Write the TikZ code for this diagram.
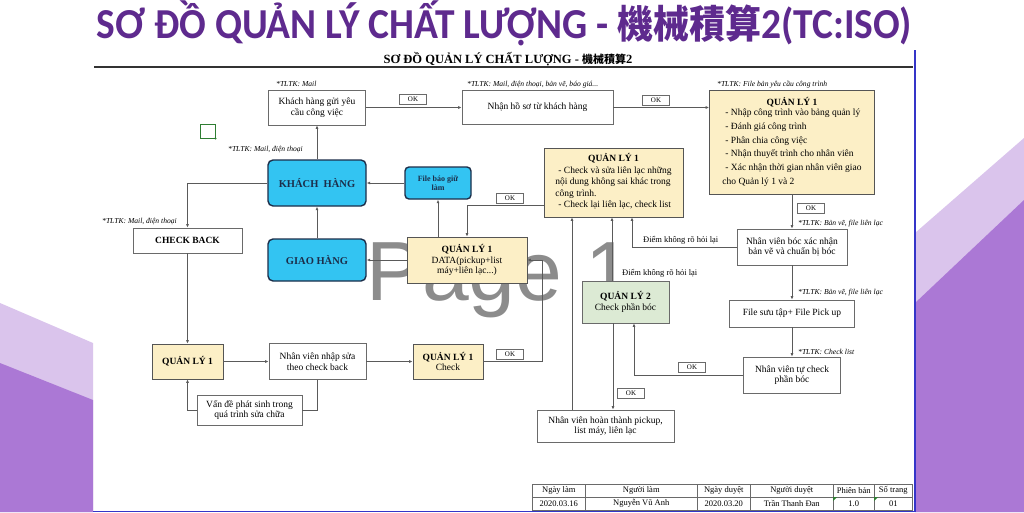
\documentclass[tikz,border=0pt]{standalone}
\usepackage{fontspec}
\setmainfont{Liberation Serif}
\newfontfamily\titlefont{Carlito}
\newfontfamily\cjk{Noto Sans CJK SC}
\newfontfamily\wmfont{Liberation Sans}
\usetikzlibrary{arrows.meta,calc}
\definecolor{ttl}{HTML}{5E2A8E}
\definecolor{pdark}{HTML}{AB78D5}
\definecolor{plight}{HTML}{DAC4EC}
\definecolor{ylw}{HTML}{FCEFC6}
\definecolor{grn}{HTML}{DCEAD4}
\definecolor{cyn}{HTML}{33C4F2}
\definecolor{navy}{HTML}{1C2E4A}
\definecolor{lncol}{HTML}{5A5A5A}
\definecolor{bdr}{HTML}{6A6A6A}
\definecolor{pgblue}{HTML}{3535C8}
\definecolor{wmgray}{HTML}{8C8C8C}
\definecolor{mkgreen}{HTML}{2E7D32}
\begin{document}
\begin{tikzpicture}[x=1pt,y=-1pt,
 box/.style={draw=bdr, line width=0.7pt, fill=white, inner sep=1pt, align=center, font=\fontsize{9.5}{10.5}\selectfont},
 ybox/.style={box, fill=ylw, draw=bdr!80!black},
 gbox/.style={box, fill=grn},
 cbox/.style={draw=navy, line width=1.4pt, fill=cyn, rounded corners=5pt, align=center, inner sep=1pt, font=\fontsize{10.5}{12}\selectfont\bfseries, text=navy},
 okbox/.style={draw=bdr, line width=0.6pt, fill=white, minimum width=27pt, minimum height=10pt, inner sep=0pt, font=\fontsize{7}{7}\selectfont},
 ref/.style={anchor=west, inner sep=0pt, font=\fontsize{7.6}{8}\selectfont\itshape},
 note/.style={anchor=west, inner sep=0pt, font=\fontsize{8.5}{9}\selectfont},
 arr/.style={draw=lncol, line width=0.7pt, -{Latex[length=3.5pt,width=3pt]}},
 conn/.style={draw=lncol, line width=0.7pt},
 cell/.style={draw=bdr, line width=0.5pt, minimum height=13pt, inner sep=0pt, anchor=north west, font=\fontsize{8.5}{9}\selectfont}
]
\useasboundingbox (0,0) rectangle (1024,512);
\fill[white] (0,0) rectangle (1024,512);
% background decoration
\fill[plight] (0,303) -- (93,343) -- (93,512) -- (0,512) -- cycle;
\fill[pdark] (0,363) -- (93,400) -- (93,512) -- (0,512) -- cycle;
\fill[plight] (915,233) -- (1024,138) -- (1024,512) -- (915,512) -- cycle;
\fill[pdark] (915,303) -- (1024,200) -- (1024,512) -- (915,512) -- cycle;
\draw[pgblue, line width=1.5pt] (915,50) -- (915,512);
\draw[pgblue, line width=1pt] (93,511) -- (915,511);
% titles
\node[anchor=base, inner sep=0pt, text=ttl] (title) at (504,38)
  {\scalebox{1}[1.08]{\titlefont\bfseries\fontsize{39.5}{41}\selectfont SƠ ĐỒ QUẢN LÝ CHẤT LƯỢNG - {\cjk\bfseries\fontsize{36}{41}\selectfont 機械積算}2(TC:ISO)}};
\node[anchor=base, inner sep=0pt] (sub) at (508,63)
  {\bfseries\fontsize{12.5}{13}\selectfont SƠ ĐỒ QUẢN LÝ CHẤT LƯỢNG - {\cjk\bfseries\fontsize{11}{13}\selectfont 機械積算}2};
\draw[line width=1.3pt, black!80] (94,67) -- (913,67);
% watermark
\node[anchor=base west, inner sep=0pt, text=wmgray, font=\wmfont\fontsize{84}{84}\selectfont] (wm) at (366,300) {Page 1};
% comment marker
\node[draw=mkgreen, line width=0.8pt, minimum width=15pt, minimum height=14pt, inner sep=0pt] (mk) at (207.5,131) {};
\fill[mkgreen] (mk.south east) circle (1.2pt);
% nodes
\node[box, minimum width=97pt, minimum height=35pt] (kreq) at (317,107.5) {Khách hàng gửi yêu\\cầu công việc};
\node[box, minimum width=151pt, minimum height=34pt] (nhan) at (537.5,107.5) {Nhận hồ sơ từ khách hàng};
\node[ybox, minimum width=165pt, minimum height=104pt] (qa) at (792,142) {\renewcommand{\arraystretch}{1.3}\begin{tabular}{@{}l@{}}\multicolumn{1}{c}{\textbf{QUẢN LÝ 1}}\\[-3pt]
 \hspace{3pt}- Nhập công trình vào bảng quản lý\\
 \hspace{3pt}- Đánh giá công trình\\
 \hspace{3pt}- Phân chia công việc\\
 \hspace{3pt}- Nhận thuyết trình cho nhân viên\\
 \hspace{3pt}- Xác nhận thời gian nhân viên giao\\
 cho Quản lý 1 và 2\end{tabular}};
\node[ybox, minimum width=139pt, minimum height=69pt] (qb) at (613.5,182.5) {\renewcommand{\arraystretch}{1.1}\begin{tabular}{@{}l@{}}\multicolumn{1}{c}{\textbf{QUẢN LÝ 1}}\\
 \hspace{3pt}- Check và sửa liên lạc những\\
 nội dung không sai khác trong\\
 công trình.\\
 \hspace{3pt}- Check lại liên lạc, check list\end{tabular}};
\node[box, minimum width=110pt, minimum height=36pt] (nvboc) at (792,247) {Nhân viên bóc xác nhận\\bản vẽ và chuẩn bị bóc};
\node[box, minimum width=125pt, minimum height=27pt] (filesuu) at (792,313.5) {File sưu tập+ File Pick up};
\node[box, minimum width=97pt, minimum height=36pt] (nvtu) at (792,375) {Nhân viên tự check\\phần bóc};
\node[gbox, minimum width=87pt, minimum height=42pt] (ql2) at (625.5,302) {\textbf{QUẢN LÝ 2}\\Check phần bóc};
\node[box, minimum width=137pt, minimum height=32pt] (hoan) at (605.5,426) {Nhân viên hoàn thành pickup,\\list máy, liên lạc};
\node[ybox, minimum width=120pt, minimum height=46pt] (data) at (467,260) {\textbf{QUẢN LÝ 1}\\DATA(pickup+list\\máy+liên lạc...)};
\node[cbox, rounded corners=4pt, minimum width=66pt, minimum height=32pt, font=\fontsize{8}{9.5}\selectfont\bfseries] (file) at (438,183) {File báo giữ\\làm};
\node[cbox, minimum width=98pt, minimum height=46pt] (kh) at (317,183) {KHÁCH\ \ HÀNG};
\node[cbox, minimum width=98pt, minimum height=42pt] (giao) at (317,260) {GIAO HÀNG};
\node[box, minimum width=109pt, minimum height=25pt] (cb) at (187.5,240.5) {\textbf{CHECK BACK}};
\node[ybox, minimum width=71pt, minimum height=35pt] (qll) at (187.5,361.5) {\textbf{QUẢN LÝ 1}};
\node[box, minimum width=97pt, minimum height=36pt] (nvnhap) at (317.5,361.5) {Nhân viên nhập sửa\\theo check back};
\node[ybox, minimum width=70pt, minimum height=35pt] (qlc) at (448,361.5) {\textbf{QUẢN LÝ 1}\\Check};
\node[box, minimum width=105pt, minimum height=30pt] (vande) at (249.5,410) {Vấn đề phát sinh trong\\quá trình sửa chữa};
% reference labels
\node[ref] (t1) at (276,84) {*TLTK: Mail};
\node[ref] (t2) at (467,85) {*TLTK: Mail, điện thoại, bản vẽ, báo giá...};
\node[ref] (t3) at (717,85) {*TLTK: File bản yêu cầu công trình};
\node[ref] (t4) at (228,149) {*TLTK: Mail, điện thoại};
\node[ref] (t5) at (102,221) {*TLTK: Mail, điện thoại};
\node[ref] (t6) at (798,224) {*TLTK: Bản vẽ, file liên lạc};
\node[ref] (t7) at (798,293) {*TLTK: Bản vẽ, file liên lạc};
\node[ref] (t8) at (798,352) {*TLTK: Check list};
\node[note] (n1) at (643,240) {Điểm không rõ hỏi lại};
\node[note] (n2) at (622,273) {Điểm không rõ hỏi lại};
% OK labels
\node[okbox] (ok1) at (413,99) {OK};
\node[okbox] (ok2) at (656,100) {OK};
\node[okbox] (ok3) at (811,208) {OK};
\node[okbox] (ok4) at (692,367) {OK};
\node[okbox] (ok5) at (631,393) {OK};
\node[okbox] (ok6) at (510,198) {OK};
\node[okbox] (ok7) at (510,354) {OK};
% connectors
\draw[arr] (kreq.east) -- (nhan.west);
\draw[arr] (nhan.east) -- (nhan.east -| qa.west);
\draw[arr] (qa.south) -- (nvboc.north);
\draw[arr] (nvboc.south) -- (filesuu.north);
\draw[arr] (filesuu.south) -- (nvtu.north);
\draw[arr] (nvtu.west) -| ([xshift=8.5pt]ql2.south);
\draw[arr] ([xshift=-12.5pt]ql2.south) -- ([xshift=-12.5pt]ql2.south |- hoan.north);
\draw[arr] ([xshift=-33.5pt]hoan.north) -- ([xshift=-33.5pt]hoan.north |- qb.south);
\draw[arr] ([xshift=-13.5pt]ql2.north) -- ([xshift=-13.5pt]ql2.north |- qb.south);
\draw[arr] (nvboc.west) -| ([xshift=18.5pt]qb.south);
\draw[arr] ([yshift=-22.5pt]qb.west) -| (data.north);
\draw[arr] (qlc.east) -- ++(59pt,0) |- (data.east);
\draw[arr] ([xshift=-29pt]data.north) -- (file.south);
\draw[arr] (file.west) -- (kh.east);
\draw[arr] (data.west) -- (giao.east);
\draw[arr] (giao.north) -- (kh.south);
\draw[arr] (kh.north) -- (kreq.south);
\draw[arr] (kh.west) -| (cb.north);
\draw[arr] (cb.south) -- (qll.north);
\draw[arr] (qll.east) -- (nvnhap.west);
\draw[arr] (nvnhap.east) -- (qlc.west);
\draw[conn] (nvnhap.south) |- (vande.east);
\draw[arr] (vande.west) -| (qll.south);
% footer table
\node[cell, minimum width=53pt] (h1) at (532,484) {Ngày làm};
\node[cell, minimum width=112pt] (h2) at (585,484) {Người làm};
\node[cell, minimum width=53pt] (h3) at (697,484) {Ngày duyệt};
\node[cell, minimum width=83pt] (h4) at (750,484) {Người duyệt};
\node[cell, minimum width=41pt] (h5) at (833,484) {Phiên bản};
\node[cell, minimum width=38pt] (h6) at (874,484) {Số trang};
\node[cell, minimum width=53pt] (v1) at (532,497) {2020.03.16};
\node[cell, minimum width=112pt] (v2) at (585,497) {Nguyễn Vũ Anh};
\node[cell, minimum width=53pt] (v3) at (697,497) {2020.03.20};
\node[cell, minimum width=83pt] (v4) at (750,497) {Trần Thanh Đan};
\node[cell, minimum width=41pt] (v5) at (833,497) {1.0};
\node[cell, minimum width=38pt] (v6) at (874,497) {01};
\fill[mkgreen] (v5.north west) -- ++(4pt,0) -- ++(-4pt,-4pt) -- cycle;
\fill[mkgreen] (v6.north west) -- ++(4pt,0) -- ++(-4pt,-4pt) -- cycle;
\end{tikzpicture}
\end{document}
